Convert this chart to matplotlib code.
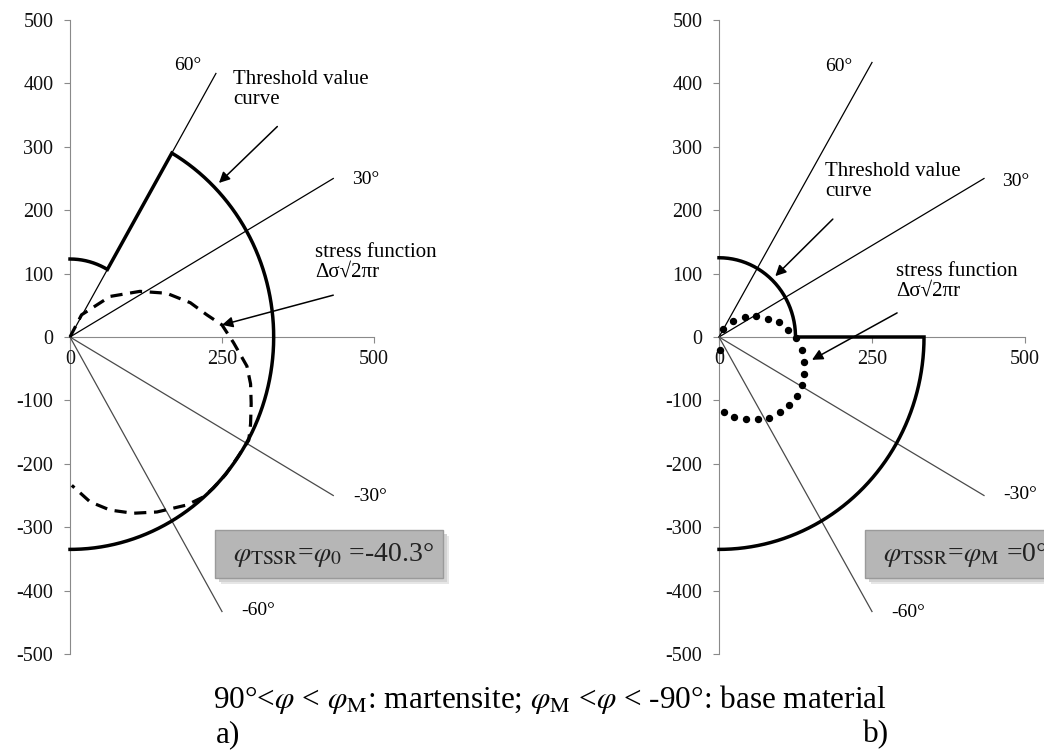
import numpy as np
import matplotlib.pyplot as plt
from matplotlib.patches import Rectangle

plt.rcParams['font.family'] = ['Liberation Serif', 'DejaVu Serif']
plt.rcParams['mathtext.fontset'] = 'stix'
plt.rcParams['axes.unicode_minus'] = False

W, H = 1044, 754

# threshold value curve: radius in martensite / base material, and phi_M (deg)
thr_r_mart_a = 123
thr_r_mart_b = 125
thr_r_base = 335
phi_m_a = 60
phi_m_b = 0

# stress function a) (dashed)
stress_a_x = [0, 19, 66, 115, 159, 198, 225, 250, 269, 291, 297, 298, 297, 294,
              274, 256, 236, 220, 192, 143, 104, 66, 33, 3]
stress_a_y = [0, 35, 64, 72, 69, 54, 35, 19, -9, -46, -74, -105, -137, -163,
              -192, -217, -238, -252, -265, -276, -278, -273, -260, -234]

# stress function b) (dotted)
stress_b_x = [1, 6, 23, 42, 61, 80, 98, 113, 125, 135, 139, 139, 136, 128, 114,
              100, 82, 63, 44, 25, 8]
stress_b_y = [-20, 13, 25, 32, 33, 29, 23, 11, -2, -20, -39, -58, -76, -93, -107,
              -119, -127, -130, -130, -126, -118]

# angle rays
ray_deg = [60, 30, -30, -60]
ray_len_a = [480, 500, 500, 500]
ray_len_b = [500, 500, 500, 500]
ray_labels = ['60°', '30°', '-30°', '-60°']

x_ticks = [0, 250, 500]
y_ticks = list(range(-500, 501, 100))

caption = ('90°<$\\varphi$ < $\\varphi_{\\rm M}$: martensite; '
           '$\\varphi_{\\rm M}$ <$\\varphi$ < -90°: base material')
box_a_text = '$\\varphi_{\\rm TSSR}$=$\\varphi_{0}$ =-40.3°'
box_b_text = '$\\varphi_{\\rm TSSR}$=$\\varphi_{\\rm M}$ =0°'


def fx(px):
    return px / W


def fy(py):
    return 1 - py / H


def threshold_xy(r_mart, r_base, phi_m):
    a1 = np.radians(np.linspace(90, phi_m, 80))
    a2 = np.radians(np.linspace(phi_m, -90, 240))
    x = np.concatenate([r_mart * np.cos(a1), r_base * np.cos(a2)])
    y = np.concatenate([r_mart * np.sin(a1), r_base * np.sin(a2)])
    return x, y


def setup_axes(ax):
    ax.set_xlim(0, 500)
    ax.set_ylim(-500, 500)
    ax.patch.set_alpha(0)
    for s in ['top', 'right']:
        ax.spines[s].set_visible(False)
    ax.spines['bottom'].set_position(('data', 0))
    for s in ['left', 'bottom']:
        ax.spines[s].set_color('#8a8a8a')
        ax.spines[s].set_linewidth(0.8)
        ax.spines[s].set_zorder(1)
    ax.set_xticks(x_ticks)
    ax.set_yticks(y_ticks)
    ax.tick_params(direction='out', length=4, width=0.8, color='#8a8a8a',
                   labelsize=14.5, labelcolor='#111111')
    ax.tick_params(axis='y', pad=8)
    ax.tick_params(axis='x', pad=5)


def draw_rays(ax, lengths, label_pos):
    for deg, ln, lab, pos in zip(ray_deg, lengths, ray_labels, label_pos):
        a = np.radians(deg)
        col = 'black' if deg > 0 else '#4a4a4a'
        ax.plot([0, ln * np.cos(a)], [0, ln * np.sin(a)], color=col, lw=0.9,
                zorder=2, clip_on=False)
        ax.text(pos[0], pos[1], lab, ha='center', va='center', fontsize=14)


def arrow(ax, head, tail):
    ax.annotate('', xy=head, xytext=tail,
                arrowprops=dict(arrowstyle='-|>', color='black', lw=1.1,
                                mutation_scale=16, shrinkA=0, shrinkB=0))


def info_box(fig, x0, x1, text, tx):
    y0, y1 = 530, 578
    for off, col in [(6, '#e6e6e6'), (4, '#d2d2d2')]:
        fig.patches.append(Rectangle((fx(x0 + off), fy(y1 + off)), (x1 - x0) / W,
                                     (y1 - y0) / H, transform=fig.transFigure,
                                     fc=col, ec='none', zorder=1))
    fig.patches.append(Rectangle((fx(x0), fy(y1)), (x1 - x0) / W, (y1 - y0) / H,
                                 transform=fig.transFigure, fc='#b6b6b6',
                                 ec='#9a9a9a', lw=1.0, zorder=2))
    fig.text(fx(tx), fy((y0 + y1) / 2 + 1), text, fontsize=20, va='center',
             ha='left', color='#222222', zorder=3)


fig = plt.figure(figsize=(W / 100, H / 100), dpi=100)
ax_h = (654 - 20) / H
ax_b = fy(654)
ax_a = fig.add_axes([fx(70), ax_b, 304 / W, ax_h])
ax_bb = fig.add_axes([fx(719), ax_b, 306 / W, ax_h])

# ---- panel a)
setup_axes(ax_a)
draw_rays(ax_a, ray_len_a, [(193, 429), (487, 248), (493, -251), (309, -432)])
tx, ty = threshold_xy(thr_r_mart_a, thr_r_base, phi_m_a)
ax_a.plot(tx, ty, color='black', lw=2.5, zorder=4, clip_on=False,
          solid_joinstyle='miter')
ax_a.plot(stress_a_x, stress_a_y, color='black', lw=2.3, zorder=3,
          linestyle=(0, (3.8, 2.4)), clip_on=False)
ax_a.text(268, 421, 'Threshold value\ncurve', ha='left', va='top', fontsize=15,
          linespacing=1.05)
arrow(ax_a, (245, 243), (341, 332))
ax_a.text(403, 148, 'stress function\nΔσ√2πr', ha='left', va='top', fontsize=15,
          linespacing=1.05)
arrow(ax_a, (250, 19), (433, 66))

# ---- panel b)
setup_axes(ax_bb)
draw_rays(ax_bb, ray_len_b, [(196, 426), (484, 245), (492, -249), (309, -434)])
tx, ty = threshold_xy(thr_r_mart_b, thr_r_base, phi_m_b)
ax_bb.plot(tx, ty, color='black', lw=2.5, zorder=4, clip_on=False,
           solid_joinstyle='miter')
ax_bb.plot(stress_b_x, stress_b_y, linestyle='none', marker='o', ms=4.3,
           color='black', zorder=3, clip_on=False)
ax_bb.text(173, 276, 'Threshold value\ncurve', ha='left', va='top', fontsize=15,
           linespacing=1.05)
arrow(ax_bb, (92, 96), (186, 186))
ax_bb.text(290, 119, 'stress function\nΔσ√2πr', ha='left', va='top', fontsize=15,
           linespacing=1.05)
arrow(ax_bb, (152, -36), (291, 38))

# ---- boxes and caption (box b runs off the right edge, as in the original)
info_box(fig, 215, 443, box_a_text, 233)
info_box(fig, 865, 1070, box_b_text, 883)

fig.text(fx(213), fy(708), caption, fontsize=22.5, va='baseline', ha='left')
fig.text(fx(216), fy(742), 'a)', fontsize=22.5, va='baseline', ha='left')
fig.text(fx(863), fy(742), 'b)', fontsize=22.5, va='baseline', ha='left')

fig.savefig('out.png', dpi=100)
